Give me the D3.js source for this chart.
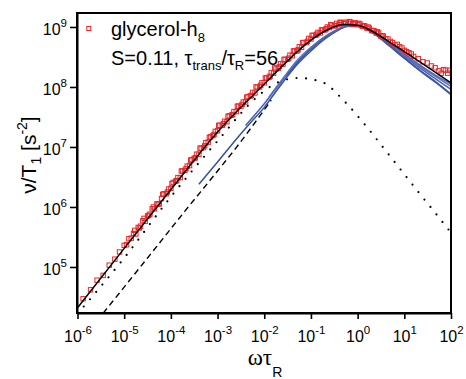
<!DOCTYPE html>
<html>
<head>
<meta charset="utf-8">
<script src="https://cdn.jsdelivr.net/npm/d3@7"></script>
<style>
  body { margin: 0; background: #fff; }
  svg { display: block; }
</style>
</head>
<body>
<svg id="chart" width="466" height="379"></svg>
<script>
// Abscissae are decade exponents of ωτ_R, ordinates decade exponents of ν/T1 in s^-2.
const xDomainExp = [-6, 2];
const yDomainExp = [4.233, 9.233];
const xTickExps = [-6, -5, -4, -3, -2, -1, 0, 1, 2];
const yTickExps = [5, 6, 7, 8, 9];

// glycerol-h8 master curve, first group of temperature runs
const h8LogX = [
  -5.88, -5.72, -5.58, -5.45, -5.32, -5.20, -5.10,
  -5.00, -4.95, -4.90, -4.85, -4.80, -4.75, -4.70, -4.65, -4.60, -4.55,
  -4.50, -4.45, -4.40, -4.35, -4.30, -4.25, -4.20, -4.15, -4.10, -4.05,
  -4.00, -3.95, -3.90, -3.85, -3.80, -3.75, -3.70, -3.65, -3.60, -3.55,
  -3.50, -3.45, -3.40, -3.35, -3.30, -3.25, -3.20, -3.15, -3.10, -3.05,
  -3.00, -2.95, -2.90, -2.85, -2.80, -2.75, -2.70, -2.65, -2.60, -2.55,
  -2.50, -2.45, -2.40, -2.35, -2.30, -2.25, -2.20, -2.15, -2.10, -2.05,
  -2.00, -1.95, -1.90, -1.85, -1.80, -1.75, -1.70, -1.65, -1.60, -1.55,
  -1.50, -1.45, -1.40, -1.35, -1.30, -1.25, -1.20, -1.15, -1.10, -1.05,
  -1.00, -0.95, -0.90, -0.85, -0.80, -0.75, -0.70, -0.65, -0.60, -0.55,
  -0.50, -0.45, -0.40, -0.35, -0.30, -0.25, -0.20, -0.15, -0.10, -0.05,
   0.00,  0.05,  0.10,  0.15,  0.20,  0.25,  0.30,  0.35,  0.40,  0.45,
   0.50,  0.55,  0.60,  0.70,  0.80,  0.90,  1.00,  1.10,  1.20,  1.30,
   1.40,  1.49,  1.58,  1.66,  1.74,  1.79,  1.84,  1.88,  1.93,  1.98
];
const h8LogY = [
  4.47, 4.62, 4.78, 4.86, 5.03, 5.13, 5.25,
  5.36, 5.37, 5.47, 5.48, 5.56, 5.55, 5.66, 5.68, 5.77, 5.76,
  5.85, 5.88, 5.97, 5.97, 6.05, 6.05, 6.14, 6.22, 6.22, 6.30,
  6.31, 6.41, 6.43, 6.49, 6.49, 6.60, 6.61, 6.68, 6.69, 6.79,
  6.81, 6.88, 6.88, 6.98, 6.99, 7.07, 7.08, 7.17, 7.19, 7.26,
  7.27, 7.36, 7.36, 7.43, 7.42, 7.52, 7.53, 7.59, 7.59, 7.68,
  7.68, 7.75, 7.75, 7.84, 7.85, 7.91, 7.90, 8.00, 8.00, 8.07,
  8.07, 8.15, 8.16, 8.24, 8.23, 8.30, 8.31, 8.39, 8.38, 8.46,
  8.46, 8.53, 8.52, 8.60, 8.60, 8.67, 8.66, 8.74, 8.74, 8.81,
  8.80, 8.86, 8.86, 8.91, 8.90, 8.95, 8.95, 9.00, 8.99, 9.03,
  9.02, 9.06, 9.04, 9.07, 9.06, 9.08, 9.06, 9.08, 9.05, 9.07,
  9.04, 9.05, 9.01, 9.02, 8.98, 8.98, 8.94, 8.94, 8.90, 8.90,
  8.85, 8.85, 8.80, 8.76, 8.70, 8.67, 8.61, 8.57, 8.51, 8.47,
  8.42, 8.40, 8.35, 8.32, 8.27, 8.23, 8.29, 8.28, 8.23, 8.28
];

// glycerol-h8 master curve, second group of temperature runs
const h8bLogX = [
  -4.775, -4.675, -4.575, -4.475, -4.375, -4.275, -4.175, -4.075,
  -3.975, -3.875, -3.775, -3.675, -3.575, -3.475, -3.375, -3.275, -3.175, -3.075,
  -2.975, -2.875, -2.775, -2.675, -2.575, -2.475, -2.375, -2.275, -2.175, -2.075,
  -1.975, -1.875, -1.775, -1.675, -1.575, -1.475, -1.375, -1.275, -1.175, -1.075,
  -0.975, -0.875, -0.775, -0.675, -0.575, -0.475, -0.375, -0.275, -0.175, -0.075,
   0.025,  0.125,  0.225,  0.325,  0.425,  0.525,  0.650,  0.750,  0.850,  0.950,
   1.050,  1.150
];
const h8bLogY = [
  5.61, 5.65, 5.81, 5.86, 6.00, 6.05, 6.21, 6.25,
  6.39, 6.44, 6.60, 6.64, 6.78, 6.82, 6.98, 7.02, 7.16, 7.21,
  7.36, 7.39, 7.51, 7.54, 7.68, 7.71, 7.83, 7.86, 8.00, 8.03,
  8.15, 8.18, 8.32, 8.34, 8.46, 8.48, 8.60, 8.62, 8.74, 8.76,
  8.86, 8.88, 8.95, 8.97, 9.04, 9.02, 9.08, 9.06, 9.09, 9.05,
  9.06, 9.02, 9.00, 8.94, 8.92, 8.85, 8.80, 8.74, 8.71, 8.65,
  8.59, 8.55
];

// Total fit (solid)
const fitLogX = [-6.0, -5.0, -4.0, -3.0, -2.0, -1.6, -1.0, -0.6, -0.3, 0.0, 0.33, 0.7, 1.06, 1.5, 2.0];
const fitLogY = [4.32, 5.31, 6.29, 7.25, 8.05, 8.36, 8.78, 8.97, 9.04, 9.03, 8.92, 8.74, 8.56, 8.33, 8.07];

// Rotational contribution (dotted)
const rotLogX = [-6.0, -5.0, -4.07, -3.0, -2.16, -1.82, -1.28, -0.76, -0.27, 0.2, 0.61, 1.27, 1.94, 2.0];
const rotLogY = [4.22, 5.15, 6.10, 7.10, 7.83, 8.03, 8.15, 8.08, 7.75, 7.33, 6.93, 6.28, 5.63, 5.57];

// Translational contribution (dashed)
const transLogX = [-5.45, -4.5, -3.7, -3.0, -2.6, -2.3, -2.0, -1.85];
const transLogY = [4.23, 5.15, 5.93, 6.60, 6.99, 7.30, 7.62, 7.78];

// Individual temperature sets (blue)
const setA_LogX = [-3.4, -3.0, -2.6, -2.3, -2.0, -1.8, -1.6, -1.3, -1.0, -0.7, -0.45, -0.25, -0.1, 0.1, 0.4, 0.7, 1.0, 1.4, 1.7, 2.0];
const setA_LogY = [6.38, 6.75, 7.13, 7.40, 7.66, 7.87, 8.08, 8.37, 8.60, 8.80, 8.93, 9.01, 9.03, 8.99, 8.86, 8.67, 8.48, 8.24, 8.07, 7.88];
const setB_LogX = [-2.4, -2.0, -1.8, -1.6, -1.3, -1.0, -0.7, -0.45, -0.25, -0.1, 0.1, 0.4, 0.7, 1.0, 1.4, 1.7, 2.0];
const setB_LogY = [7.36, 7.72, 7.92, 8.12, 8.41, 8.63, 8.82, 8.94, 9.01, 9.03, 9.00, 8.87, 8.69, 8.51, 8.28, 8.12, 7.96];
const setC_LogX = [-1.9, -1.6, -1.3, -1.0, -0.7, -0.45, -0.25, -0.1, 0.1, 0.4, 0.7, 1.0, 1.4, 1.7, 2.0];
const setC_LogY = [7.83, 8.14, 8.44, 8.66, 8.84, 8.95, 9.02, 9.04, 9.01, 8.88, 8.71, 8.53, 8.31, 8.16, 8.01];
const setD_LogX = [-1.5, -1.2, -0.9, -0.6, -0.35, -0.15, 0.1, 0.4, 0.7, 1.0, 1.4, 1.7, 2.0];
const setD_LogY = [8.20, 8.48, 8.70, 8.88, 8.98, 9.02, 9.00, 8.87, 8.68, 8.48, 8.23, 8.06, 7.87];
const setE_LogX = [-1.1, -0.8, -0.5, -0.25, 0.1, 0.4, 0.7, 1.0, 1.4, 1.7, 2.0];
const setE_LogY = [8.58, 8.78, 8.93, 9.01, 9.01, 8.89, 8.72, 8.55, 8.33, 8.18, 8.05];

const legendLabel = "glycerol-h";
const legendSub = "8";

// ---------------------------------------------------------------------------
const p10 = e => Math.pow(10, e);
const pairs = (xs, ys) => xs.map((v, i) => [p10(v), p10(ys[i])]);

const svg = d3.select("#chart");
const box = { left: 77, right: 451, top: 13, bottom: 313 };

const x = d3.scaleLog().domain(xDomainExp.map(p10)).range([box.left + 0.5, box.right]);
const y = d3.scaleLog().domain(yDomainExp.map(p10)).range([box.bottom, box.top]);

svg.append("defs").append("clipPath").attr("id", "plotClip")
  .append("rect")
  .attr("x", box.left).attr("y", box.top)
  .attr("width", box.right - box.left).attr("height", box.bottom - box.top);

const plot = svg.append("g").attr("clip-path", "url(#plotClip)");

const line = d3.line()
  .x(d => x(d[0]))
  .y(d => y(d[1]))
  .curve(d3.curveMonotoneX);

// dotted rotational part
plot.append("path")
  .datum(pairs(rotLogX, rotLogY))
  .attr("d", line)
  .attr("fill", "none")
  .attr("stroke", "#000")
  .attr("stroke-width", 2.2)
  .attr("stroke-linecap", "round")
  .attr("stroke-dasharray", "0,9.6");

// dashed translational part
plot.append("path")
  .datum(pairs(transLogX, transLogY))
  .attr("d", line)
  .attr("fill", "none")
  .attr("stroke", "#000")
  .attr("stroke-width", 1.4)
  .attr("stroke-dasharray", "6,4");

// blue temperature sets
const blueSets = [
  [setA_LogX, setA_LogY, "#3550a6"],
  [setB_LogX, setB_LogY, "#4862b1"],
  [setC_LogX, setC_LogY, "#5a73ba"],
  [setD_LogX, setD_LogY, "#3c57a9"],
  [setE_LogX, setE_LogY, "#5069b5"]
];
blueSets.forEach(([xs, ys, c]) => {
  plot.append("path")
    .datum(pairs(xs, ys))
    .attr("d", line)
    .attr("fill", "none")
    .attr("stroke", c)
    .attr("stroke-width", 1.5);
});

// glycerol-h8 data points
const sq = 4.4;
plot.append("g")
  .selectAll("rect")
  .data(pairs(h8LogX, h8LogY).concat(pairs(h8bLogX, h8bLogY)))
  .join("rect")
  .attr("x", d => x(d[0]) - sq / 2)
  .attr("y", d => y(d[1]) - sq / 2)
  .attr("width", sq)
  .attr("height", sq)
  .attr("fill", "none")
  .attr("stroke", "#e8262b")
  .attr("stroke-width", 1);

// total fit
plot.append("path")
  .datum(pairs(fitLogX, fitLogY))
  .attr("d", line)
  .attr("fill", "none")
  .attr("stroke", "#000")
  .attr("stroke-width", 1.5);

// ---------------------------------------------------------------------------
// axes
const font = "'Liberation Sans', Arial, sans-serif";

const xAxis = svg.append("g")
  .attr("transform", `translate(0,${box.bottom})`)
  .call(d3.axisBottom(x).tickValues(xTickExps.map(p10)).tickSize(6).tickSizeOuter(0).tickFormat(() => ""));
const yAxis = svg.append("g")
  .attr("transform", `translate(${box.left},0)`)
  .call(d3.axisLeft(y).tickValues(yTickExps.map(p10)).tickSize(7).tickSizeOuter(0).tickFormat(() => ""));

[xAxis, yAxis].forEach(g => {
  g.selectAll(".tick text").remove();
  g.select(".domain").attr("stroke-width", 2);
  g.selectAll(".tick line").attr("stroke-width", 1.6);
});

const supText = (sel, v) => {
  const e = Math.round(Math.log10(v));
  sel.append("tspan").text("10");
  sel.append("tspan").attr("dy", -8).attr("font-size", 11.5).text(String(e));
};

xAxis.selectAll(".tick").append("text")
  .attr("y", 29)
  .attr("text-anchor", "middle")
  .attr("fill", "#000")
  .attr("font-family", font)
  .attr("font-size", 16)
  .each(function (v) { supText(d3.select(this), v); });

yAxis.selectAll(".tick").append("text")
  .attr("x", -10)
  .attr("y", 8)
  .attr("text-anchor", "end")
  .attr("fill", "#000")
  .attr("font-family", font)
  .attr("font-size", 16)
  .each(function (v) { supText(d3.select(this), v); });

// frame
svg.append("rect")
  .attr("x", box.left).attr("y", box.top)
  .attr("width", box.right - box.left).attr("height", box.bottom - box.top)
  .attr("fill", "none").attr("stroke", "#000").attr("stroke-width", 2);

// axis titles
const yTitle = svg.append("text")
  .attr("transform", "translate(36,155) rotate(-90)")
  .attr("text-anchor", "middle")
  .attr("font-family", font)
  .attr("font-size", 21)
  .attr("fill", "#000");
yTitle.append("tspan").text("ν/T");
yTitle.append("tspan").attr("font-size", 14).attr("dy", 5).text("1");
yTitle.append("tspan").attr("dy", -5).text(" [s");
yTitle.append("tspan").attr("font-size", 14).attr("dy", -9).text("-2");
yTitle.append("tspan").attr("dy", 9).text("]");

const xTitle = svg.append("text")
  .attr("x", 265).attr("y", 365)
  .attr("text-anchor", "middle")
  .attr("fill", "#000");
xTitle.append("tspan").attr("font-family", "'Liberation Serif', 'Times New Roman', serif").attr("font-size", 23).text("ωτ");
xTitle.append("tspan").attr("font-family", font).attr("font-size", 14).attr("dy", 12).text("R");

// legend
const leg = svg.append("g").attr("font-family", font).attr("fill", "#000");
leg.append("rect")
  .attr("x", 86.8).attr("y", 26.5).attr("width", 4).attr("height", 4)
  .attr("fill", "none").attr("stroke", "#e8262b").attr("stroke-width", 1);
const l1 = leg.append("text").attr("x", 111).attr("y", 36).attr("font-size", 20);
l1.append("tspan").text(legendLabel);
l1.append("tspan").attr("font-size", 13).attr("dy", 6).text(legendSub);

const l2 = leg.append("text").attr("x", 111).attr("y", 65).attr("font-size", 20);
l2.append("tspan").text("S=0.11, τ");
l2.append("tspan").attr("font-size", 13).attr("dy", 5).text("trans");
l2.append("tspan").attr("dy", -5).text("/τ");
l2.append("tspan").attr("font-size", 13).attr("dy", 5).text("R");
l2.append("tspan").attr("dy", -5).text("=56");
</script>
</body>
</html>
